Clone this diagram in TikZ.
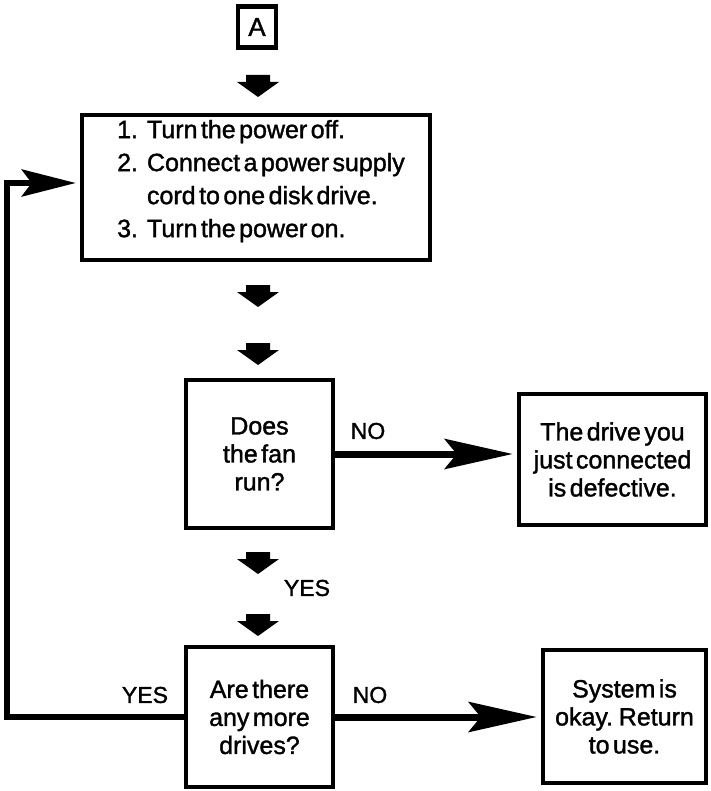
\documentclass[tikz,border=0pt]{standalone}
\usepackage{fontspec}
\setmainfont{Liberation Sans}[WordSpace=0.5, FakeBold=1.4]
\usetikzlibrary{arrows.meta,positioning}

\tikzset{
    stepbox/.style={draw, line width=4.5pt, inner sep=0pt, align=center,
        font=\fontsize{25}{28}\selectfont},
    answer/.style={inner sep=0pt, font=\fontsize{23}{23}\selectfont},
    flowline/.style={line width=7pt, shorten >=4pt,
        -{Stealth[length=68pt, width=30pt, inset=12pt]}},
    fatarrow/.pic={
        \fill (-12,0) -- (12,0) -- (12,7) -- (21,7) -- (0,22) -- (-21,7) -- (-12,7) -- cycle;
    }
}

\begin{document}
\begin{tikzpicture}[x=1pt, y=-1pt]
        \useasboundingbox (0,0) rectangle (710,791);

        \node (A) [stepbox, minimum width=38pt, minimum height=41pt,
            font=\fontsize{26}{26}\selectfont] at (257,27) {A};

        \node (1) [stepbox, minimum width=348pt, minimum height=145pt] at (256,187.5) {};
        \node [font=\fontsize{25}{33}\selectfont, inner sep=0pt] at (261,181)
        {
            \begin{tabular}{@{}r@{\hspace{9pt}}l@{}}
                1. & Turn the power off.\\
                2. & Connect a power supply\\
                   & cord to one disk drive.\\
                3. & Turn the power on.
            \end{tabular}
        };

        \node (2) [stepbox, minimum width=147pt, minimum height=148pt] at (259.5,454)
        {Does\\the fan\\run?};

        \node (3) [stepbox, minimum width=187pt, minimum height=131pt] at (612.5,459.5)
        {The drive you\\just connected\\is defective.};

        \node (4) [stepbox, minimum width=147pt, minimum height=140pt] at (259.5,717)
        {Are there\\any more\\drives?};

        \node (5) [stepbox, minimum width=163pt, minimum height=133pt] at (624.5,716.5)
        {System is\\okay. Return\\to use.};

        % fat arrows down the middle
        \foreach \y in {75,285,343,552,614}
            \pic at (258,\y) {fatarrow};

        \node (yes1) [answer] at (307,588) {YES};
        \node (no1) [answer] at (368,431) {NO};
        \node (no2) [answer] at (370,695) {NO};
        \node (yes2) [answer] at (145,695) {YES};

        \draw[flowline] (2.east) -- (2.east -| 3.west);
        \draw[flowline] (4.east) -- (4.east -| 5.west);

        \coordinate (loop) at (7,183);
        \draw[line width=6pt, shorten >=4pt,
            -{Stealth[length=54pt, width=27pt, inset=10pt]}]
            (4.west) -| (loop) -- (loop -| 1.west);
    \end{tikzpicture}
\end{document}
